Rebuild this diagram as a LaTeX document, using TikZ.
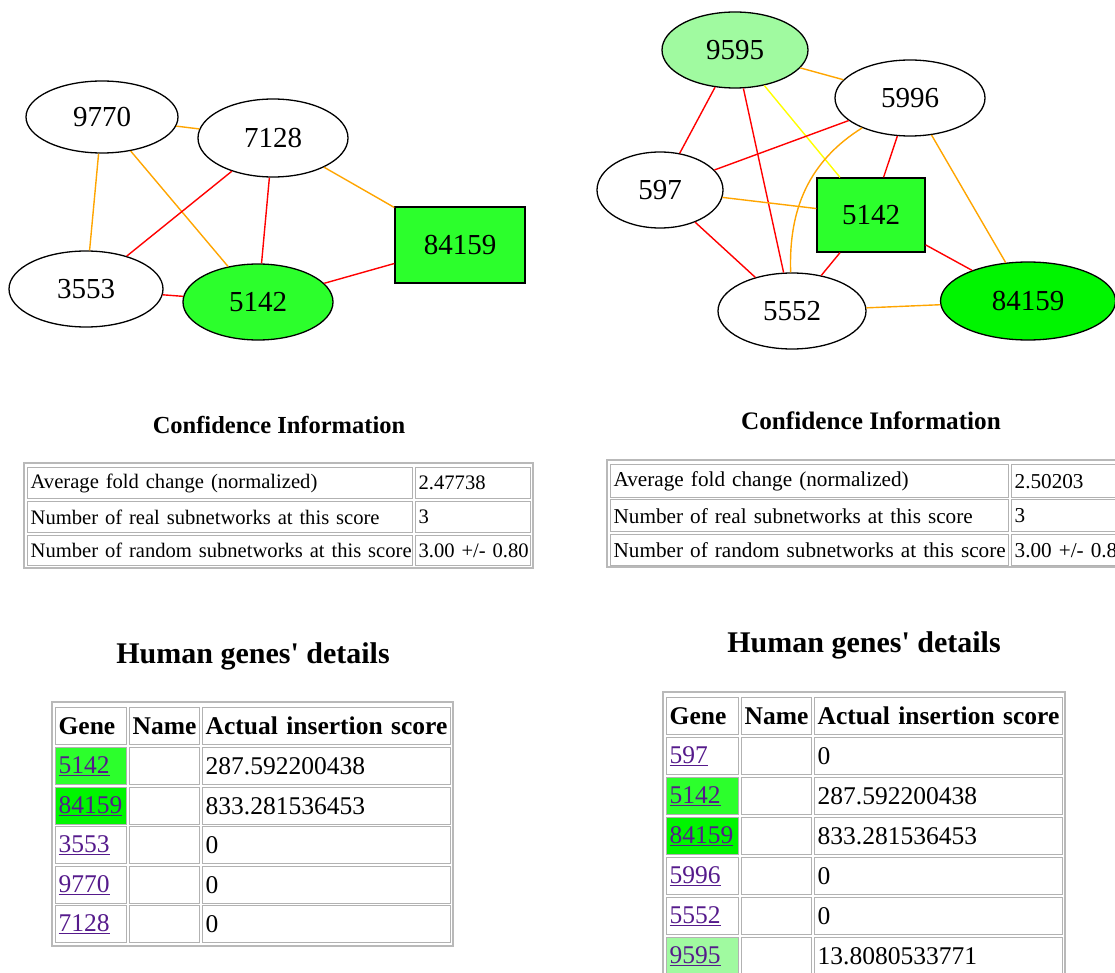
\documentclass[tikz,border=0pt]{standalone}
\usepackage{fontspec}
\setmainfont{Liberation Serif}[Ligatures=TeXOff]
\usetikzlibrary{shapes.geometric}
\definecolor{gA}{RGB}{44,255,44}
\definecolor{gB}{RGB}{0,245,0}
\definecolor{gC}{RGB}{160,250,160}
\definecolor{edgeorange}{RGB}{255,165,0}
\definecolor{edgered}{RGB}{255,0,0}
\definecolor{edgeyellow}{RGB}{255,255,0}
\definecolor{linkc}{RGB}{85,26,139}
\newcommand\lnk[1]{\textcolor{linkc}{\underline{#1}}}
\tikzset{
  gnode/.style={ellipse, draw=black, line width=1.3pt, inner sep=0pt, font=\fontsize{29}{32}\selectfont},
  gbox/.style={rectangle, draw=black, line width=1.3pt, inner sep=0pt, font=\fontsize{29}{32}\selectfont},
  edgeO/.style={draw=edgeorange, line width=1.4pt},
  edgeR/.style={draw=edgered, line width=1.4pt},
  edgeY/.style={draw=edgeyellow, line width=1.4pt},
  cellbase/.style={draw=gray!60, line width=1.3pt, anchor=north west, inner xsep=3pt, inner ysep=0pt, align=left},
  confcell/.style={cellbase, font=\fontsize{20.6}{24}\selectfont},
  confcellR/.style={cellbase, font=\fontsize{21.2}{24}\selectfont},
  genecell/.style={cellbase, font=\fontsize{25.5}{28}\selectfont},
  headcell/.style={cellbase, font=\bfseries\fontsize{25.5}{28}\selectfont},
  tblborder/.style={draw=gray!55, line width=1.5pt},
  heading/.style={font=\bfseries\fontsize{24.5}{28}\selectfont},
  bigheading/.style={font=\bfseries\fontsize{30}{34}\selectfont}
}
\begin{document}
\begin{tikzpicture}[x=1pt,y=-1pt]
\useasboundingbox (0,0) rectangle (1115,973);
\clip (0,0) rectangle (1115,973);

% ---------- left graph ----------
\node[gnode, minimum width=152, minimum height=72] (L9770) at (102,117) {9770};
\node[gnode, minimum width=150, minimum height=78] (L7128) at (273,138) {7128};
\node[gnode, minimum width=154, minimum height=76] (L3553) at (86,289) {3553};
\node[gnode, fill=gA, minimum width=150, minimum height=76] (L5142) at (258,302) {5142};
\node[gbox, fill=gA, minimum width=130, minimum height=76] (L84159) at (460,245) {84159};

\draw[edgeO] (L9770) -- (L7128);
\draw[edgeO] (L9770) -- (L3553);
\draw[edgeO] (L9770) -- (L5142);
\draw[edgeR] (L7128) -- (L3553);
\draw[edgeR] (L7128) -- (L5142);
\draw[edgeO] (L7128) -- (L84159);
\draw[edgeR] (L3553) -- (L5142);
\draw[edgeR] (L5142) -- (L84159);

% ---------- right graph ----------
\node[gnode, fill=gC, minimum width=146, minimum height=76] (R9595) at (735,50) {9595};
\node[gnode, minimum width=150, minimum height=76] (R5996) at (910,98) {5996};
\node[gnode, minimum width=126, minimum height=76] (R597) at (660,190) {597};
\node[gbox, fill=gA, minimum width=108, minimum height=74] (R5142) at (871,215) {5142};
\node[gnode, minimum width=148, minimum height=76] (R5552) at (792,311) {5552};
\node[gnode, fill=gB, minimum width=175, minimum height=78] (R84159) at (1028,301) {84159};

\draw[edgeO] (R9595) -- (R5996);
\draw[edgeR] (R9595) -- (R597);
\draw[edgeR] (R9595) -- (R5552);
\draw[edgeY] (R9595) -- (R5142);
\draw[edgeR] (R5996) -- (R597);
\draw[edgeR] (R5996) -- (R5142);
\draw[edgeO] (R5996) to[out=212,in=92] (R5552);
\draw[edgeO] (R5996) -- (R84159);
\draw[edgeO] (R597) -- (R5142);
\draw[edgeR] (R597) -- (R5552);
\draw[edgeR] (R5142) -- (R5552);
\draw[edgeR] (R5142) -- (R84159);
\draw[edgeO] (R5552) -- (R84159);

% ---------- headings ----------
\node[heading] (LconfH) at (279,425) {Confidence Information};
\node[heading, font=\bfseries\fontsize{25.2}{28}\selectfont] (RconfH) at (871,421) {Confidence Information};
\node[bigheading] (LgeneH) at (253,656) {Human genes' details};
\node[bigheading] (RgeneH) at (864,645) {Human genes' details};

% ---------- left confidence table ----------
\draw[tblborder] (24,463) rectangle (533,568);
\node[confcell, text width=379, minimum height=31] (Lc11) at (27,467) {\mbox{Average fold change (normalized)}};
\node[confcell, text width=109, minimum height=31] (Lc12) at (415,467) {\mbox{2.47738}};
\node[confcell, text width=379, minimum height=31] (Lc21) at (27,501) {\mbox{Number of real subnetworks at this score}};
\node[confcell, text width=109, minimum height=31] (Lc22) at (415,501) {\mbox{3}};
\node[confcell, text width=379, minimum height=30] (Lc31) at (27,535) {\mbox{Number of random subnetworks at this score}};
\node[confcell, text width=109, minimum height=30] (Lc32) at (415,535) {\mbox{3.00 +/- 0.80}};

% ---------- right confidence table ----------
\draw[tblborder] (607,460) rectangle (1130,567);
\node[confcellR, text width=392, minimum height=33] (Rc11) at (610,464) {\mbox{Average fold change (normalized)}};
\node[confcellR, text width=109, minimum height=33] (Rc12) at (1011,464) {\mbox{2.50203}};
\node[confcellR, text width=392, minimum height=32] (Rc21) at (610,499) {\mbox{Number of real subnetworks at this score}};
\node[confcellR, text width=109, minimum height=32] (Rc22) at (1011,499) {\mbox{3}};
\node[confcellR, text width=392, minimum height=31] (Rc31) at (610,534) {\mbox{Number of random subnetworks at this score}};
\node[confcellR, text width=109, minimum height=31] (Rc32) at (1011,534) {\mbox{3.00 +/- 0.80}};

% ---------- left gene table ----------
\draw[tblborder] (52,702) rectangle (453,946);
\node[headcell, text width=65, minimum height=37] (Lh1) at (55,707) {\mbox{Gene}};
\node[headcell, text width=64, minimum height=37] (Lh2) at (129,707) {\mbox{Name}};
\node[headcell, text width=242, minimum height=37] (Lh3) at (202,707) {\mbox{Actual insertion score}};

\node[genecell, fill=gA, text width=65, minimum height=37] (Lr1a) at (55,747) {\lnk{5142}};
\node[genecell, text width=64, minimum height=37] (Lr1b) at (129,747) {};
\node[genecell, text width=242, minimum height=37] (Lr1c) at (202,747) {287.592200438};

\node[genecell, fill=gB, text width=65, minimum height=37] (Lr2a) at (55,787) {\lnk{84159}};
\node[genecell, text width=64, minimum height=37] (Lr2b) at (129,787) {};
\node[genecell, text width=242, minimum height=37] (Lr2c) at (202,787) {833.281536453};

\node[genecell, text width=65, minimum height=37] (Lr3a) at (55,826) {\lnk{3553}};
\node[genecell, text width=64, minimum height=37] (Lr3b) at (129,826) {};
\node[genecell, text width=242, minimum height=37] (Lr3c) at (202,826) {0};

\node[genecell, text width=65, minimum height=37] (Lr4a) at (55,866) {\lnk{9770}};
\node[genecell, text width=64, minimum height=37] (Lr4b) at (129,866) {};
\node[genecell, text width=242, minimum height=37] (Lr4c) at (202,866) {0};

\node[genecell, text width=65, minimum height=37] (Lr5a) at (55,905) {\lnk{7128}};
\node[genecell, text width=64, minimum height=37] (Lr5b) at (129,905) {};
\node[genecell, text width=242, minimum height=37] (Lr5c) at (202,905) {0};

% ---------- right gene table ----------
\draw[tblborder] (663,692) rectangle (1065,985);
\node[headcell, text width=66, minimum height=37] (Rh1) at (666,697) {\mbox{Gene}};
\node[headcell, text width=64, minimum height=37] (Rh2) at (741,697) {\mbox{Name}};
\node[headcell, text width=242, minimum height=37] (Rh3) at (814,697) {\mbox{Actual insertion score}};

\node[genecell, text width=66, minimum height=37] (Rr1a) at (666,737) {\lnk{597}};
\node[genecell, text width=64, minimum height=37] (Rr1b) at (741,737) {};
\node[genecell, text width=242, minimum height=37] (Rr1c) at (814,737) {0};

\node[genecell, fill=gA, text width=66, minimum height=37] (Rr2a) at (666,777) {\lnk{5142}};
\node[genecell, text width=64, minimum height=37] (Rr2b) at (741,777) {};
\node[genecell, text width=242, minimum height=37] (Rr2c) at (814,777) {287.592200438};

\node[genecell, fill=gB, text width=66, minimum height=37] (Rr3a) at (666,817) {\lnk{84159}};
\node[genecell, text width=64, minimum height=37] (Rr3b) at (741,817) {};
\node[genecell, text width=242, minimum height=37] (Rr3c) at (814,817) {833.281536453};

\node[genecell, text width=66, minimum height=37] (Rr4a) at (666,857) {\lnk{5996}};
\node[genecell, text width=64, minimum height=37] (Rr4b) at (741,857) {};
\node[genecell, text width=242, minimum height=37] (Rr4c) at (814,857) {0};

\node[genecell, text width=66, minimum height=37] (Rr5a) at (666,897) {\lnk{5552}};
\node[genecell, text width=64, minimum height=37] (Rr5b) at (741,897) {};
\node[genecell, text width=242, minimum height=37] (Rr5c) at (814,897) {0};

\node[genecell, fill=gC, text width=66, minimum height=37] (Rr6a) at (666,937) {\lnk{9595}};
\node[genecell, text width=64, minimum height=37] (Rr6b) at (741,937) {};
\node[genecell, text width=242, minimum height=37] (Rr6c) at (814,937) {13.8080533771};
\end{tikzpicture}
\end{document}
